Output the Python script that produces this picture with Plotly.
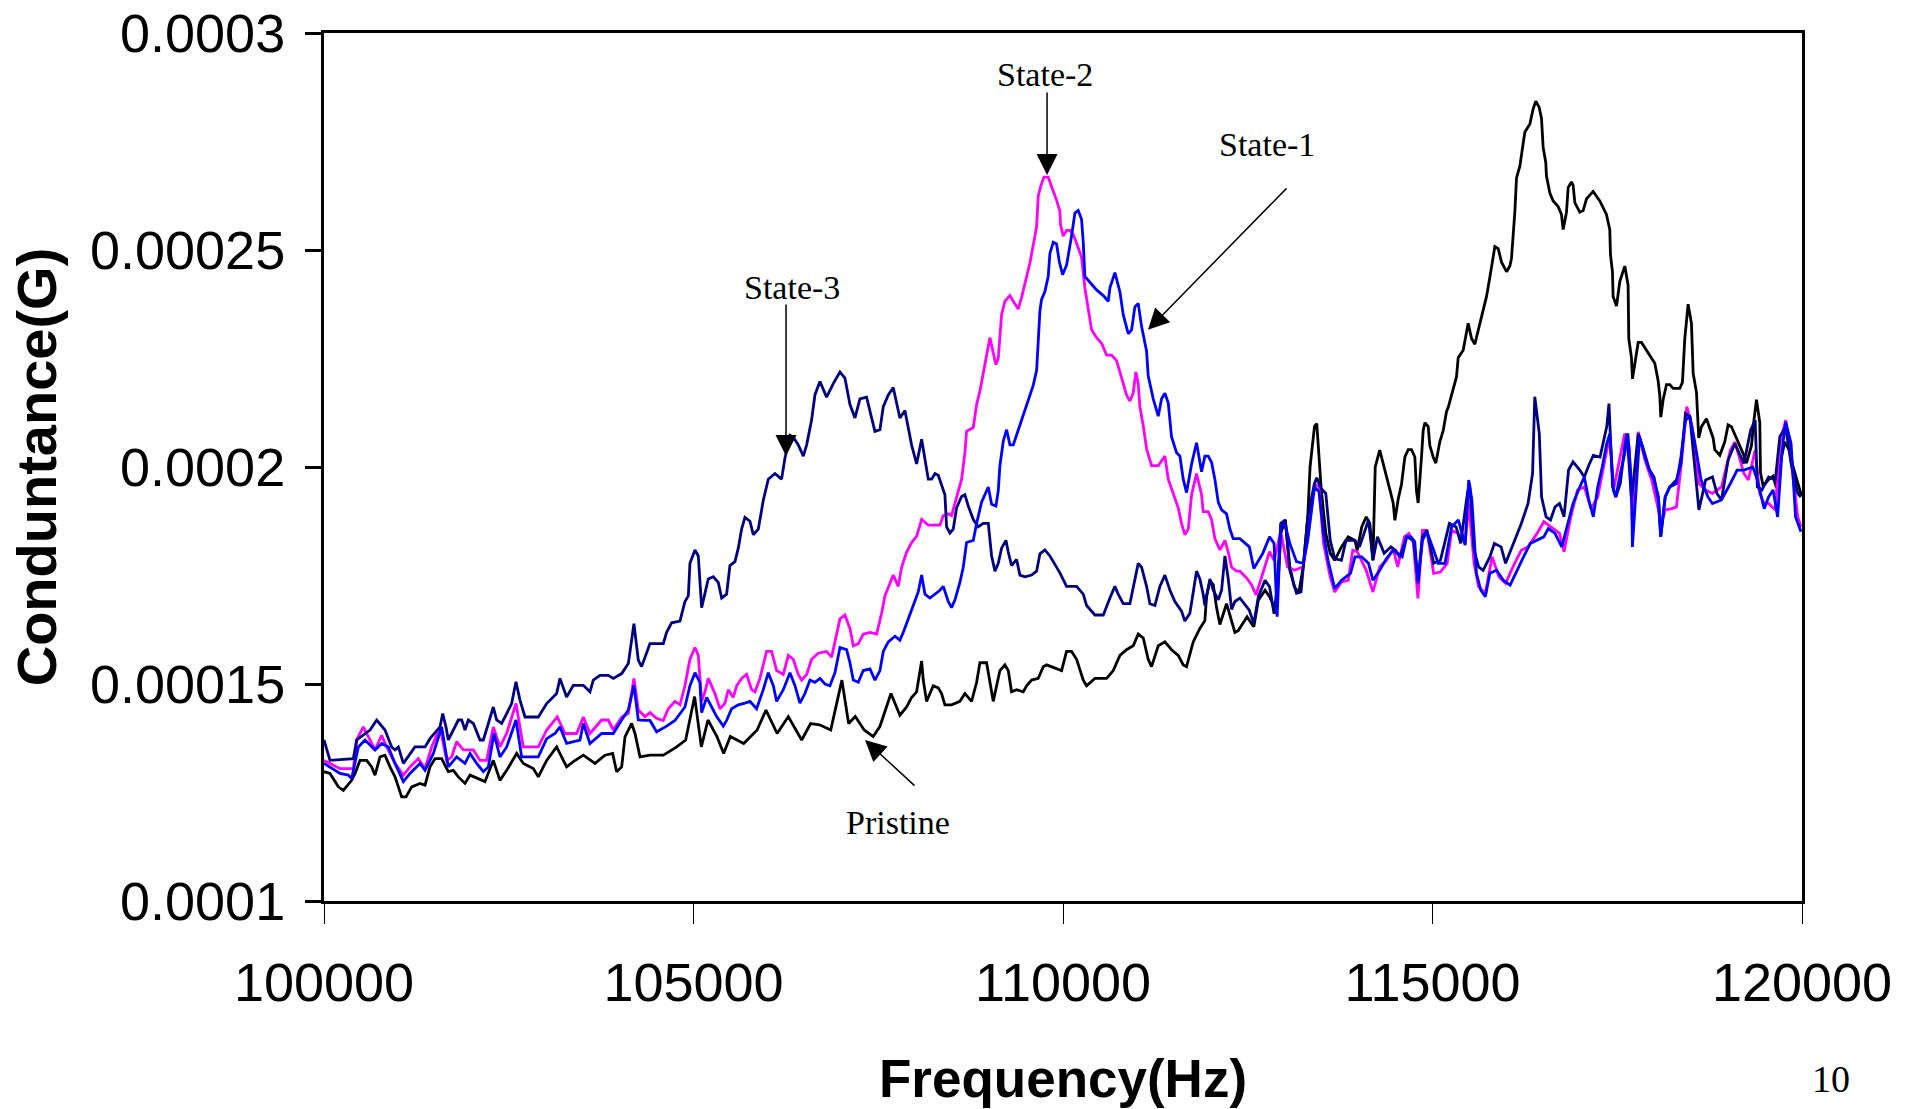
import plotly.graph_objects as go

# ---------------- data (frequency in Hz, conductance in micro-siemens) ----------------
pristine_f = [100000,100081,100194,100262,100374,100420,100487,100577,100645,100690,100758,100825,100893,100961,101051,101110,101186,101299,101367,101434,101502,101592,101682,101750,101818,101908,101976,102088,102178,102291,102381,102472,102607,102697,102832,102900,103013,103148,103193,103283,103374,103509,103667,103802,103906,103960,104028,104073,104163,104208,104276,104411,104592,104773,104894,105015,105106,105196,105317,105408,105498,105679,105861,105981,106132,106283,106464,106585,106706,106857,107008,107099,107189,107310,107431,107522,107672,107793,107884,107951,108019,108087,108109,108154,108244,108312,108357,108402,108492,108605,108673,108718,108763,108831,108876,108966,109011,109056,109146,109214,109259,109304,109372,109462,109507,109575,109665,109733,109778,109845,109913,109981,110048,110116,110184,110274,110319,110432,110590,110680,110770,110860,110950,111018,111086,111153,111198,111289,111379,111469,111559,111627,111672,111717,111762,111852,111920,111943,111988,112033,112078,112123,112168,112213,112258,112326,112371,112491,112552,112582,112643,112734,112795,112856,112886,112947,113008,113069,113130,113190,113251,113312,113343,113403,113434,113495,113556,113616,113677,113768,113860,113951,113981,114042,114103,114152,114194,114225,114286,114355,114423,114468,114491,114536,114581,114626,114671,114716,114761,114784,114806,114851,114874,114897,114942,114964,115009,115045,115099,115145,115190,115212,115280,115325,115348,115415,115483,115528,115573,115618,115686,115731,115776,115821,115844,115889,115934,116002,116047,116069,116114,116137,116182,116227,116250,116317,116362,116398,116443,116475,116497,116533,116542,116588,116633,116700,116745,116768,116813,116836,116881,116903,116926,116993,117039,117084,117174,117264,117354,117399,117408,117435,117444,117490,117535,117602,117647,117656,117692,117706,117738,117783,117828,117895,118008,118053,118076,118089,118121,118166,118211,118256,118346,118382,118414,118459,118504,118527,118572,118603,118640,118707,118797,118820,118888,118955,119000,119045,119113,119203,119248,119316,119352,119384,119429,119438,119474,119542,119609,119654,119722,119767,119835,119880,119947,119992]
pristine_g = [129.8,129.4,126.3,125.5,127.8,129.4,132.4,132.4,130.9,129.0,133.2,133.6,130.9,128.6,124.0,124.0,126.3,127.1,126.7,130.9,132.8,132.8,129.8,130.1,128.6,127.1,129.0,128.2,127.5,132.4,127.8,130.1,134.0,131.7,130.5,128.6,132.4,135.5,134.0,130.9,132.1,133.6,131.7,133.6,134.0,129.8,130.9,137.8,140.9,138.6,133.2,133.6,133.6,135.5,137.1,147.1,135.5,141.7,137.9,134.0,137.9,136.3,139.4,144.0,138.6,142.5,137.1,140.9,140.6,139.4,150.9,140.9,142.5,139.4,137.9,140.2,147.8,142.8,144.7,146.9,148.2,155.3,150.9,146.0,149.6,149.1,147.8,145.2,145.2,146.0,147.8,146.9,146.0,150.4,154.9,154.9,150.0,146.0,153.1,154.4,153.1,148.2,148.7,148.2,149.6,150.9,151.3,154.0,154.4,154.0,153.5,153.1,157.5,157.5,155.7,150.9,149.6,151.3,151.3,153.1,156.6,157.9,158.8,161.5,160.6,155.7,154.0,158.8,159.7,157.9,156.6,154.4,154.0,156.6,159.7,162.8,164.6,170.3,173.8,172.9,167.6,163.7,166.3,168.5,165.9,161.9,162.3,165.5,163.9,163.2,169.3,171.6,170.1,167.8,166.2,184.7,187.8,177.0,172.4,170.9,177.0,188.5,200.0,209.3,210.0,194.7,184.7,180.1,178.5,181.6,183.9,183.1,180.8,186.2,188.5,187.0,178.5,200.0,203.9,199.6,194.8,191.7,187.7,192.6,196.1,202.3,204.0,204.0,202.3,194.3,191.7,202.3,208.4,210.2,209.3,204.9,202.3,200.9,205.8,208.4,212.8,213.7,218.1,220.8,225.2,226.9,233.1,229.6,228.3,231.3,235.8,239.3,243.7,249.0,250.8,250.3,247.2,245.0,246.3,248.1,258.7,266.6,269.3,274.6,277.2,279.0,282.5,284.3,282.9,280.3,273.7,270.1,267.1,263.1,261.3,260.0,258.2,254.7,258.7,264.4,265.7,264.9,260.9,258.7,259.1,261.8,263.5,261.3,258.2,254.7,249.0,245.0,239.3,237.1,242.8,246.3,241.9,229.6,225.2,220.3,223.4,228.7,228.7,226.9,223.9,219.9,216.4,211.5,215.5,219.0,219.0,218.1,218.1,219.5,229.6,237.5,233.1,221.6,217.2,206.7,209.3,211.1,206.7,204.0,202.7,205.8,209.7,209.3,206.7,203.1,200.9,204.9,211.1,215.5,210.2,198.7,195.6,197.0,197.9,195.2,202.3,205.8,203.6,200.0,196.1,193.4]

state1_f = [100000,100217,100329,100374,100465,100555,100690,100780,100871,100961,101074,101164,101299,101367,101480,101592,101682,101795,101908,101976,102066,102156,102224,102300,102381,102472,102598,102675,102900,103013,103126,103193,103283,103464,103509,103599,103757,103915,104028,104118,104194,104253,104343,104411,104501,104636,104749,104884,104952,105020,105087,105110,105178,105245,105313,105403,105448,105516,105606,105696,105764,105854,105944,106012,106080,106125,106215,106305,106373,106440,106508,106576,106643,106711,106779,106846,106914,106982,107072,107117,107162,107230,107297,107388,107455,107523,107568,107636,107726,107793,107839,107906,107974,108041,108087,108132,108199,108267,108335,108380,108447,108492,108538,108605,108650,108695,108786,108831,108898,108989,109034,109092,109124,109146,109192,109237,109282,109327,109417,109507,109597,109643,109665,109688,109710,109755,109800,109823,109868,109913,109949,109994,110048,110094,110116,110161,110206,110251,110274,110296,110364,110454,110545,110612,110635,110702,110770,110815,110883,110928,110973,111018,111063,111131,111153,111221,111289,111334,111379,111424,111469,111537,111582,111627,111672,111740,111807,111875,111920,111965,112010,112055,112101,112146,112213,112258,112303,112394,112521,112582,112703,112795,112856,112898,112947,113008,113069,113160,113251,113312,113403,113464,113525,113586,113677,113768,113890,113951,114042,114134,114194,114286,114377,114468,114529,114590,114650,114711,114760,114803,114864,114924,115016,115077,115168,115259,115350,115442,115490,115533,115594,115654,115715,115776,115867,115959,116050,116141,116232,116324,116415,116506,116567,116658,116749,116810,116902,116993,117054,117115,117176,117236,117297,117358,117400,117449,117480,117541,117601,117644,117693,117705,117754,117802,117875,117936,117997,118058,118088,118149,118210,118301,118362,118423,118483,118544,118635,118727,118788,118910,119031,119122,119214,119335,119396,119457,119488,119548,119609,119670,119731,119779,119852,119913,119986]
state1_g = [131.7,129.4,129.0,128.2,135.5,137.1,134.8,136.3,135.5,131.7,127.5,129.4,131.7,130.1,134.0,140.1,130.9,133.2,131.7,134.0,131.7,129.8,130.9,138.6,133.2,135.5,141.7,133.2,133.2,137.4,138.6,140.1,136.3,137.1,140.9,136.3,138.6,138.6,141.7,144.0,149.7,141.7,141.6,141.6,139.0,140.3,141.6,144.7,149.6,152.6,150.4,143.4,146.9,144.7,142.5,140.3,141.6,144.3,145.2,145.6,146.0,144.3,148.7,152.6,149.6,146.0,148.7,152.6,149.6,145.6,147.8,150.9,150.4,151.3,150.0,149.6,152.6,158.4,157.9,154.9,150.9,150.4,153.1,153.5,150.9,153.1,157.5,159.7,161.0,160.1,161.9,165.0,168.1,171.2,175.1,170.7,169.8,170.7,171.6,172.5,169.0,167.6,169.4,173.4,176.9,182.6,183.1,187.0,191.9,195.4,191.4,191.0,194.5,200.3,206.0,208.6,205.1,205.1,209.5,214.4,218.8,222.3,228.9,236.0,238.6,240.4,243.9,249.2,251.8,251.4,247.4,244.3,246.5,250.5,253.2,258.5,259.1,257.1,251.8,243.9,242.6,240.8,239.5,238.2,241.3,244.8,240.4,235.1,230.7,231.6,236.9,237.7,232.4,226.7,221.0,215.7,211.7,215.7,217.0,214.8,206.9,203.3,202.5,197.2,194.1,200.7,205.6,198.9,202.5,202.5,201.1,197.2,191.9,190.1,189.2,185.7,183.5,183.5,181.6,176.6,180.1,183.9,182.4,165.5,186.6,186.6,182.4,178.2,177.8,183.1,195.4,194.3,184.7,178.5,172.0,173.9,175.5,179.3,179.3,177.8,173.9,176.2,178.9,180.8,180.1,179.3,183.9,183.9,182.8,173.2,183.1,185.1,180.8,177.8,177.8,186.2,187.8,182.0,197.0,192.4,175.5,171.6,170.1,175.5,176.2,173.9,172.8,176.2,179.3,182.4,183.1,183.9,185.8,184.7,181.6,185.4,191.6,195.4,197.7,192.4,188.5,195.4,200.0,205.4,207.7,194.7,193.1,198.5,203.1,207.7,196.2,181.6,195.4,207.0,202.3,199.3,197.0,193.1,183.9,193.1,195.4,196.2,202.3,210.8,211.6,206.2,197.0,193.1,191.6,192.4,196.2,199.3,199.3,200.0,197.0,192.4,190.4,193.1,194.7,188.5,203.9,210.4,205.4,188.5,185.1]

state2_f = [100000,100217,100397,100442,100532,100623,100690,100780,100848,100961,101074,101164,101276,101367,101457,101570,101660,101727,101795,101885,102021,102111,102201,102291,102381,102472,102598,102697,102900,103013,103157,103261,103419,103509,103599,103757,103847,103915,104028,104118,104194,104253,104343,104411,104501,104591,104659,104749,104817,104884,104952,105020,105065,105110,105155,105200,105290,105358,105426,105471,105538,105584,105651,105719,105786,105832,105899,105989,106057,106125,106215,106283,106350,106418,106463,106531,106598,106688,106801,106869,106914,106982,107049,107117,107162,107230,107297,107388,107478,107545,107590,107658,107703,107771,107816,107884,107951,108019,108087,108177,108335,108380,108447,108492,108560,108628,108673,108695,108786,108831,108876,108921,108966,109011,109056,109092,109124,109146,109169,109214,109282,109327,109394,109440,109507,109552,109620,109643,109665,109697,109742,109800,109845,109913,109958,109967,110003,110048,110094,110139,110206,110251,110296,110342,110387,110454,110522,110590,110657,110725,110770,110815,110860,110905,110950,110986,111018,111040,111086,111131,111198,111289,111379,111424,111492,111559,111604,111649,111695,111740,111807,111875,111897,111965,112010,112055,112123,112191,112236,112281,112349,112394,112491,112552,112612,112673,112734,112795,112856,112947,113038,113130,113251,113312,113403,113464,113525,113616,113677,113768,113860,113921,113981,114103,114194,114286,114377,114468,114529,114620,114681,114742,114803,114864,114924,115016,115107,115198,115259,115350,115442,115490,115563,115624,115715,115807,115898,115989,116111,116202,116293,116415,116506,116597,116719,116780,116871,116963,117054,117145,117236,117358,117400,117449,117541,117601,117662,117705,117784,117875,117966,118058,118088,118149,118240,118301,118362,118441,118514,118605,118696,118788,118910,119031,119092,119153,119214,119274,119366,119427,119488,119548,119639,119700,119779,119852,119943,119986]
state2_g = [132.4,130.5,130.5,137.1,140.1,137.1,134.8,138.2,135.5,131.7,129.0,130.9,132.8,130.5,135.5,140.1,132.4,133.2,136.7,134.8,134.8,132.4,132.4,140.1,135.5,138.6,145.5,135.5,135.5,139.4,142.4,138.6,138.6,142.4,138.6,141.7,141.7,139.4,142.4,143.2,151.3,144.0,142.5,143.4,142.1,141.6,144.3,146.0,145.2,149.6,155.7,158.4,156.6,146.0,148.2,151.3,147.8,144.3,145.6,148.7,146.9,149.6,151.3,152.2,148.7,148.2,151.3,157.5,157.5,153.1,152.2,156.6,155.7,152.2,150.9,152.2,155.7,157.1,157.5,156.2,159.7,165.0,165.9,162.8,158.8,159.3,161.5,161.9,161.5,166.3,170.3,173.4,175.1,172.5,176.9,180.4,182.6,184.0,187.9,186.6,186.6,188.8,189.2,188.8,192.8,197.2,203.3,208.2,209.1,214.4,217.5,221.9,226.3,229.8,226.3,223.6,225.0,230.7,235.1,238.2,239.5,238.2,236.4,239.1,243.9,247.0,253.2,255.4,262.4,264.6,266.8,266.8,264.6,261.5,258.9,255.8,253.2,254.5,254.5,253.6,250.5,248.3,241.3,236.0,231.6,229.8,228.5,225.8,225.8,224.5,221.9,219.2,216.6,215.2,217.0,221.9,219.2,213.9,209.5,204.2,200.3,200.3,202.5,197.2,193.6,190.6,187.0,184.4,185.7,193.6,198.5,193.6,189.7,189.7,187.9,183.5,180.9,183.1,180.4,176.9,176.0,176.0,174.3,172.8,170.5,173.9,177.0,180.5,178.5,185.1,177.0,176.2,177.0,183.9,196.2,195.4,182.4,174.7,171.2,173.5,173.9,180.8,180.5,176.2,171.2,177.0,178.5,181.2,177.0,183.9,184.7,182.4,169.7,185.4,185.4,175.5,175.8,177.8,185.4,184.7,182.4,191.6,177.8,172.4,170.9,179.3,174.7,173.2,177.8,180.8,181.6,184.7,187.4,186.2,184.7,180.5,188.5,194.7,195.4,190.4,193.1,203.9,206.6,194.7,202.4,207.7,204.6,187.0,208.1,201.6,197.0,190.1,186.2,190.1,190.4,190.8,200.0,213.9,209.3,196.2,194.7,193.9,195.4,203.9,205.8,202.3,198.5,197.0,203.9,193.9,191.6,191.6,190.1,205.4,210.8,201.6,188.5,186.2]

state3_f = [100000,100081,100397,100442,100623,100713,100825,100916,100961,101006,101074,101141,101231,101367,101434,101570,101606,101651,101682,101750,101818,101863,101908,101953,102021,102111,102156,102224,102291,102336,102404,102472,102539,102598,102652,102720,102900,103013,103148,103193,103283,103374,103509,103599,103644,103734,103847,103915,104028,104118,104194,104253,104298,104411,104591,104636,104704,104817,104884,104930,104952,105020,105065,105110,105200,105268,105335,105381,105448,105493,105561,105606,105651,105696,105764,105809,105877,105944,106012,106102,106192,106237,106305,106350,106418,106486,106531,106598,106643,106711,106801,106891,106982,107049,107117,107185,107252,107342,107410,107455,107523,107568,107636,107703,107793,107861,107951,108019,108087,108132,108177,108222,108267,108312,108357,108402,108425,108470,108515,108560,108628,108673,108718,108786,108853,108921,108989,109034,109079,109124,109169,109228,109259,109304,109372,109417,109485,109575,109643,109688,109755,109823,109868,109958,110048,110184,110274,110319,110432,110545,110635,110702,110747,110815,110905,110973,111018,111063,111131,111176,111244,111311,111379,111447,111514,111604,111649,111717,111762,111807,111852,111897,111920,111988,112033,112101,112146,112191,112236,112281,112326,112394,112521,112582,112643,112734,112795,112856,112898,112947,113008,113069,113160,113221,113312,113403,113434,113495,113556,113616,113677,113768,113829,113951,114012,114073,114134,114194,114255,114346,114438,114498,114559,114650,114742,114803,114864,114924,115016,115107,115229,115320,115381,115472,115502,115563,115624,115685,115776,115837,115928,115989,116080,116202,116293,116354,116384,116445,116476,116537,116597,116658,116719,116780,116841,116902,116993,117054,117115,117176,117267,117358,117388,117437,117480,117541,117601,117632,117693,117784,117845,117936,117997,118058,118088,118149,118210,118301,118362,118423,118483,118544,118605,118696,118788,118849,118910,119001,119092,119214,119305,119366,119396,119457,119548,119639,119700,119779,119852,119943,119986]
state3_g = [137.1,132.4,132.8,137.1,139.4,141.7,139.4,135.5,134.8,135.5,131.7,133.2,135.5,135.5,137.4,140.1,143.2,140.1,137.1,139.4,141.7,141.7,139.4,141.7,140.9,137.1,137.1,140.9,144.7,141.7,140.9,143.2,145.5,150.5,146.3,142.4,142.4,145.5,147.8,151.3,147.0,149.7,149.7,148.2,150.9,152.0,152.0,151.3,152.4,154.7,163.9,155.5,154.0,159.3,159.3,161.9,164.1,164.5,169.0,170.3,177.8,180.9,179.5,167.6,174.2,174.7,173.4,169.8,170.7,177.3,178.2,181.3,185.7,188.4,187.5,184.4,185.7,192.3,197.2,198.5,197.2,202.0,207.3,206.9,205.1,202.5,205.1,210.8,216.6,219.7,216.1,219.2,221.9,220.5,214.4,211.3,215.7,216.1,211.3,208.2,208.6,213.9,216.6,218.3,211.3,213.0,205.1,200.7,206.4,201.5,197.2,197.2,198.5,198.1,195.9,193.6,186.2,184.8,185.7,190.6,193.2,193.6,191.0,187.9,186.2,187.0,187.0,179.5,176.0,177.8,181.3,183.1,180.4,177.3,178.7,175.1,174.7,175.1,176.0,180.0,180.9,179.5,178.2,175.6,172.5,172.5,170.7,168.1,165.9,165.9,169.8,172.5,170.7,168.5,168.5,174.2,177.8,176.9,172.5,168.5,168.1,172.5,175.1,171.6,169.0,166.8,164.5,166.3,171.6,176.0,174.2,170.7,168.1,174.2,171.6,169.4,171.6,179.5,174.2,167.2,169.0,169.8,167.0,163.9,170.1,173.9,172.4,166.2,172.4,187.0,187.8,176.2,170.9,171.2,188.5,196.2,197.5,195.0,193.9,183.1,178.9,178.5,183.1,183.1,181.6,184.7,187.8,178.5,183.9,180.1,181.6,180.8,179.3,183.9,183.1,173.9,183.9,185.4,177.8,178.5,187.0,186.2,182.4,193.9,196.2,180.8,177.0,176.2,179.3,182.4,181.6,177.8,181.6,187.0,191.6,198.5,216.2,207.7,193.1,188.5,187.8,190.8,191.6,188.5,199.3,201.2,199.3,197.7,200.4,202.7,202.3,209.3,214.6,195.4,193.1,196.2,204.6,207.7,192.4,207.7,204.6,199.3,197.7,192.4,183.9,193.1,195.4,197.0,200.8,212.3,211.6,200.8,190.1,197.0,197.7,193.9,192.4,201.6,205.4,200.8,208.5,210.8,195.4,194.7,197.7,197.0,207.0,209.3,200.8,193.9,193.1]

x_ticks = [100000, 105000, 110000, 115000, 120000]
x_tick_text = ["100000", "105000", "110000", "115000", "120000"]
y_ticks = [0.0001, 0.00015, 0.0002, 0.00025, 0.0003]
y_tick_text = ["0.0001", "0.00015", "0.0002", "0.00025", "0.0003"]

series = [
    ("Pristine", pristine_f, pristine_g, "#000000"),
    ("State-2", state2_f, state2_g, "#FF00FF"),
    ("State-3", state3_f, state3_g, "#000080"),
    ("State-1", state1_f, state1_g, "#0000FF"),
]

SANS = "Liberation Sans, Arial, sans-serif"
SERIF = "Liberation Serif, Times New Roman, serif"

fig = go.Figure()
for name, f, g, color in series:
    fig.add_trace(go.Scatter(
        x=f, y=[v * 1e-6 for v in g], mode="lines", name=name,
        line=dict(color=color, width=2.8), showlegend=False,
    ))

# labels (text) and arrows
labels = [
    ("State-2", 109757, 0.00029054),
    ("State-1", 112761, 0.00027441),
    ("State-3", 106333, 0.00024147),
    ("Pristine", 107767, 0.0001182),
]
for txt, x, y in labels:
    fig.add_annotation(x=x, y=y, text=txt, showarrow=False,
                       font=dict(family=SERIF, size=34, color="black"),
                       xanchor="center", yanchor="middle")

arrows = [
    (109784, 0.00026727, 0, -84),
    (111150, 0.0002316, 140, -143),
    (106252, 0.00020253, 0, -153),
    (107321, 0.0001371, 51, 47),
]
for x, y, ax, ay in arrows:
    fig.add_annotation(x=x, y=y, ax=ax, ay=ay, text="", showarrow=True,
                       arrowhead=2, arrowsize=2.8, arrowwidth=1.5,
                       arrowcolor="black")

fig.add_annotation(xref="paper", yref="paper", x=1.0196, y=-0.205, text="10",
                   showarrow=False, font=dict(family=SERIF, size=38, color="black"),
                   xanchor="center", yanchor="middle")

fig.update_layout(
    width=1905, height=1109,
    margin=dict(l=324, r=103, t=33, b=208, autoexpand=False),
    paper_bgcolor="white", plot_bgcolor="white",
    showlegend=False,
)
fig.update_xaxes(
    range=[100000, 120000], tickvals=x_ticks, ticktext=x_tick_text,
    showgrid=False, zeroline=False,
    showline=True, linecolor="black", linewidth=3, mirror=True,
    ticks="outside", ticklen=20, tickwidth=1, tickcolor="black",
    tickfont=dict(family=SANS, size=54, color="black"),
    ticklabelstandoff=12, ticklabeloverflow="allow",
    title=dict(text="<b>Frequency(Hz)</b>", font=dict(family=SANS, size=53, color="black"),
               standoff=50),
)
fig.update_yaxes(
    range=[0.0001, 0.0003], tickvals=y_ticks, ticktext=y_tick_text,
    showgrid=False, zeroline=False,
    showline=True, linecolor="black", linewidth=3, mirror=True,
    ticks="outside", ticklen=16, tickwidth=3, tickcolor="black",
    tickfont=dict(family=SANS, size=54, color="black"),
    ticklabelstandoff=9, ticklabeloverflow="allow",
    title=dict(text="<b>Conduntance(G)</b>", font=dict(family=SANS, size=56, color="black"),
               standoff=16),
)

fig.write_html("out.html")
